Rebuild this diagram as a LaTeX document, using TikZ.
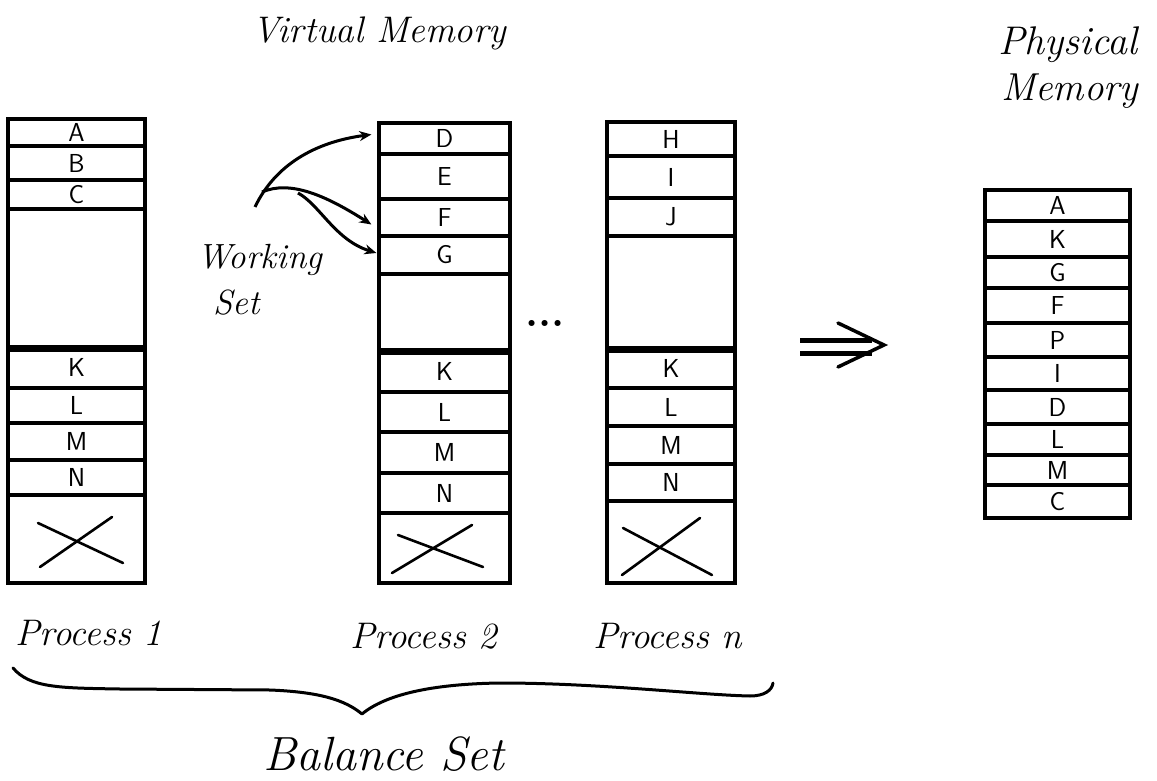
\documentclass[tikz,border=0pt]{standalone}
\usepackage{fontspec}
\usetikzlibrary{arrows.meta}

% fonts for the page labels and the handwritten-style titles
\newcommand\cellfont{\sffamily\fontsize{26}{26}\selectfont}
\newcommand\titlefont[1]{\itshape\fontsize{#1}{#1}\selectfont}

\tikzset{
  cell/.style={draw, line width=3.2pt, inner sep=0pt, font=\cellfont},
  divider/.style={line width=6pt},
  crossline/.style={line width=2.6pt, line cap=round},
  wsarrow/.style={line width=3pt, -{Stealth[length=12pt,width=10pt]}},
  title/.style={inner sep=0pt, anchor=base west},
  bracepath/.style={line width=3pt, line cap=round, line join=round},
}

% one page slot: name, x1, y1, x2, y2, label
\newcommand\cellbox[6]{%
  \node[cell, minimum width={#4-(#2)}, minimum height={#5-(#3)}]
    (#1) at ({(#2+#4)/2},{(#3+#5)/2}) {#6};}

\begin{document}
\begin{tikzpicture}[x=1pt,y=-1pt]
\useasboundingbox (0,0) rectangle (1157,781);

% ---------- titles ----------
\node[title, font=\titlefont{37}] (vm) at (252,43) {Virtual Memory};
\node[title, font=\titlefont{40}] (pm1) at (998,55) {Physical};
\node[title, font=\titlefont{39}] (pm2) at (1001,101) {Memory};

% ---------- Process 1 ----------
\cellbox{p1a}{8}{119}{145}{146}{A}
\cellbox{p1b}{8}{146}{145}{180}{B}
\cellbox{p1c}{8}{180}{145}{209}{C}
\cellbox{p1e}{8}{209}{145}{347}{}
\cellbox{p1k}{8}{347}{145}{388}{K}
\cellbox{p1l}{8}{388}{145}{423}{L}
\cellbox{p1m}{8}{423}{145}{460}{M}
\cellbox{p1n}{8}{460}{145}{495}{N}
\cellbox{p1x}{8}{495}{145}{583}{}
\draw[divider] (p1e.south west) -- (p1e.south east);
\draw[crossline] (38,523) -- (123,563);
\draw[crossline] (40,567) -- (112,517);

% ---------- Process 2 ----------
\cellbox{p2d}{379}{123}{510}{154}{D}
\cellbox{p2e}{379}{154}{510}{199}{E}
\cellbox{p2f}{379}{199}{510}{236}{F}
\cellbox{p2g}{379}{236}{510}{274}{G}
\cellbox{p2v}{379}{274}{510}{350}{}
\cellbox{p2k}{379}{350}{510}{392}{K}
\cellbox{p2l}{379}{392}{510}{432}{L}
\cellbox{p2m}{379}{432}{510}{473}{M}
\cellbox{p2n}{379}{473}{510}{513}{N}
\cellbox{p2x}{379}{513}{510}{583}{}
\draw[divider] (p2v.south west) -- (p2v.south east);
\draw[crossline] (398,535) -- (483,567);
\draw[crossline] (392,573) -- (472,525);

% ---------- ellipsis between processes ----------
\node[font=\bfseries\fontsize{42}{42}\selectfont, inner sep=0pt, anchor=base]
  (dots) at (545,326) {...};

% ---------- Process n ----------
\cellbox{pnh}{607}{122}{735}{156}{H}
\cellbox{pni}{607}{156}{735}{198}{I}
\cellbox{pnj}{607}{198}{735}{236}{J}
\cellbox{pnv}{607}{236}{735}{348}{}
\cellbox{pnk}{607}{348}{735}{388}{K}
\cellbox{pnl}{607}{388}{735}{426}{L}
\cellbox{pnm}{607}{426}{735}{464}{M}
\cellbox{pnn}{607}{464}{735}{501}{N}
\cellbox{pnx}{607}{501}{735}{583}{}
\draw[divider] (pnv.south west) -- (pnv.south east);
\draw[crossline] (623,528) -- (712,575);
\draw[crossline] (622,575) -- (700,518);

% ---------- working set ----------
\node[title, font=\titlefont{35}] (ws1) at (197,268) {Working};
\node[title, font=\titlefont{35}] (ws2) at (213,314) {Set};
\coordinate (wsa) at (255,207);
\coordinate (wsb) at (262,192);
\coordinate (wsc) at (298,193);
\draw[wsarrow] (wsa) .. controls (275,165) and (315,142) .. ([xshift=-6pt,yshift=4pt]p2d.west);
\draw[wsarrow] (wsb) .. controls (290,180) and (325,195) .. ([xshift=-6pt,yshift=-7pt]p2f.west);
\draw[wsarrow] (wsc) .. controls (320,205) and (335,240) .. ([xshift=-1pt,yshift=2pt]p2g.west);

% ---------- mapping arrow ----------
\coordinate (ma) at (800,340);
\coordinate (mb) at (800,353);
\coordinate (mt) at (884,345);
\draw[line width=5pt] (ma) -- (872,340);
\draw[line width=5pt] (mb) -- (872,353);
\draw[line width=3.5pt, line cap=round, line join=miter] (838,323) -- (mt) -- (838,367);

% ---------- physical memory ----------
\cellbox{ma1}{985}{190}{1130}{221}{A}
\cellbox{ma2}{985}{221}{1130}{257}{K}
\cellbox{ma3}{985}{257}{1130}{288}{G}
\cellbox{ma4}{985}{288}{1130}{323}{F}
\cellbox{ma5}{985}{323}{1130}{357}{P}
\cellbox{ma6}{985}{357}{1130}{390}{I}
\cellbox{ma7}{985}{390}{1130}{424}{D}
\cellbox{ma8}{985}{424}{1130}{455}{L}
\cellbox{ma9}{985}{455}{1130}{485}{M}
\cellbox{ma10}{985}{485}{1130}{518}{C}

% ---------- process labels ----------
\node[title, font=\titlefont{37}] (lp1) at (15,645) {Process 1};
\node[title, font=\titlefont{37}] (lp2) at (350,648) {Process 2};
\node[title, font=\titlefont{37}] (lpn) at (593,648) {Process n};

% ---------- balance set brace ----------
\draw[bracepath] (13,668) .. controls (30,688) and (60,688) .. (120,689)
  -- (270,690) .. controls (320,692) and (345,700) .. (362,714)
  .. controls (385,695) and (430,684) .. (500,683)
  .. controls (600,683) and (700,695) .. (750,696)
  .. controls (765,696) and (772,690) .. (773,683);
\node[title, font=\titlefont{48}] (bs) at (263,770) {Balance Set};

\end{tikzpicture}
\end{document}
